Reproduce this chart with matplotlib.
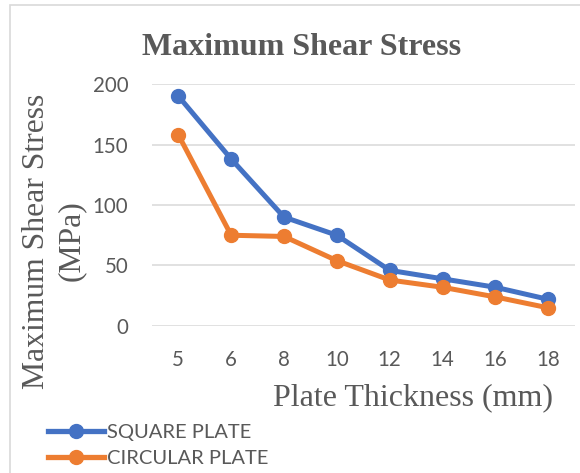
import matplotlib.pyplot as plt
from matplotlib.lines import Line2D
from matplotlib.patches import Rectangle

# plate thickness categories (mm) and shear stress values (MPa)
thickness = ['5', '6', '8', '10', '12', '14', '16', '18']
square_plate = [190, 138, 90, 75, 46, 39, 32, 22]
circular_plate = [158, 75, 74, 54, 38, 32, 24, 15]
y_ticks = [0, 50, 100, 150, 200]

BLUE = '#4472C4'
ORANGE = '#ED7D31'
GRID = '#D9D9D9'
TEXT = '#595959'
SERIF = 'Liberation Serif'
SANS = 'Lato'

fig = plt.figure(figsize=(5.8, 4.73), dpi=100)
ax = fig.add_axes([0.2619, 0.3108, 0.729, 0.5116])

x = range(len(thickness))
ax.plot(x, square_plate, color=BLUE, lw=3.6, marker='o', ms=10,
        solid_capstyle='round', label='SQUARE PLATE', zorder=3)
ax.plot(x, circular_plate, color=ORANGE, lw=3.6, marker='o', ms=10,
        solid_capstyle='round', label='CIRCULAR PLATE', zorder=4)

ax.set_xlim(-0.5, len(thickness) - 0.5)
ax.set_ylim(0, 200)
ax.set_xticks(list(x))
ax.set_xticklabels(thickness)
ax.set_yticks(y_ticks)
ax.grid(axis='y', color=GRID, lw=1.1)
ax.set_axisbelow(True)
for s in ax.spines.values():
    s.set_visible(False)
ax.tick_params(length=0, labelsize=14.8, labelcolor=TEXT)
ax.tick_params(axis='y', pad=17)
ax.tick_params(axis='x', pad=17)
for lab in ax.get_xticklabels() + ax.get_yticklabels():
    lab.set_fontfamily(SANS)

fig.text(0.5198, 1 - 55 / 473, 'Maximum Shear Stress', fontsize=23,
         fontweight='bold', family=SERIF, color=TEXT, ha='center', va='baseline')
fig.text(413 / 580, 1 - 405 / 473, 'Plate Thickness (mm)', fontsize=23,
         family=SERIF, color=TEXT, ha='center', va='baseline')
fig.text(54 / 580, 1 - 241 / 473, 'Maximum Shear Stress\n(MPa)', fontsize=22.8,
         family=SERIF, color=TEXT, ha='center', va='center', rotation=90,
         multialignment='center', linespacing=1.25)

handles = [Line2D([], [], color=BLUE, lw=3.8, marker='o', ms=10),
           Line2D([], [], color=ORANGE, lw=3.8, marker='o', ms=10)]
leg = fig.legend(handles, ['SQUARE PLATE', 'CIRCULAR PLATE'], loc='upper left',
                 bbox_to_anchor=(48 / 580, 1 - 424 / 473), frameon=False,
                 borderpad=0, borderaxespad=0, handlelength=2.8,
                 handletextpad=0.12, labelspacing=0.42,
                 prop={'family': SANS, 'size': 14.5})
for t in leg.get_texts():
    t.set_color(TEXT)

# chart area outline
fig.patches.append(Rectangle((10 / 580, -0.1), 1.2, 1.1 - 5 / 473,
                             transform=fig.transFigure, fill=False,
                             edgecolor=GRID, lw=1.2))

fig.savefig('out.png', dpi=100)
